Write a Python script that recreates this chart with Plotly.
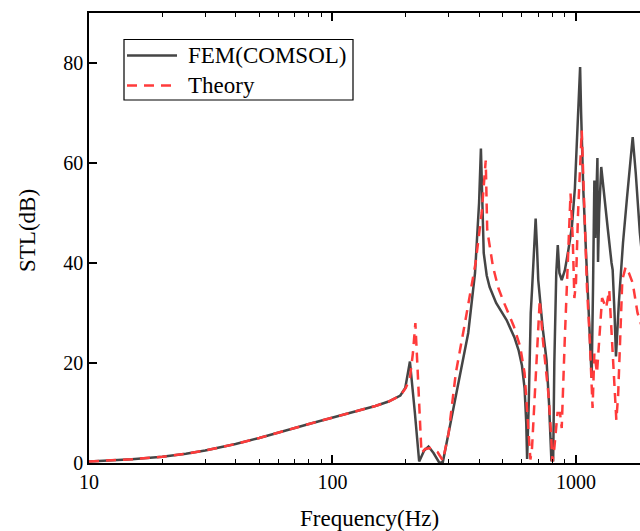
import plotly.graph_objects as go

# FEM (COMSOL) transmission loss
fem_freq = [10, 12, 15, 20, 25, 30, 40, 50, 60, 70, 80, 100, 120, 150, 170, 190,
            199, 208, 218, 227, 238, 248, 260, 275, 284, 300, 330, 361, 385, 400,
            407, 412, 418, 430, 442, 470, 519, 560, 581, 600, 615, 625, 630, 640,
            652, 660, 670, 683, 692, 700, 730, 757, 775, 793, 800, 806, 815, 830,
            842, 855, 874, 900, 930, 962, 990, 1008, 1030, 1040, 1050, 1072, 1100,
            1140, 1160, 1175, 1190, 1200, 1212, 1225, 1232, 1245, 1270, 1300, 1350,
            1400, 1415, 1440, 1460, 1500, 1560, 1620, 1680, 1710, 1760, 1830, 1900]
fem_stl = [0.3, 0.45, 0.75, 1.25, 1.85, 2.5, 3.8, 5.0, 6.0, 7.0, 7.8, 9.1, 10.1, 11.4, 12.3, 13.5,
           15.0, 20.3, 10.0, 0.3, 2.5, 3.3, 2.0, 0.0, 0.2, 6.0, 16.0, 26.0, 38.0, 52.0,
           62.9, 52.0, 42.0, 37.5, 35.2, 32.0, 28.6, 25.0, 22.6, 19.5, 15.0, 8.0, 0.8, 12.0,
           30.0, 34.6, 40.0, 48.9, 43.0, 36.6, 27.0, 20.6, 12.0, 0.3, 5.0, 0.3, 20.0, 38.0,
           43.6, 38.0, 36.6, 38.5, 42.5, 47.2, 55.0, 63.2, 75.0, 79.2, 70.0, 54.6, 42.0,
           26.0, 17.0, 35.0, 56.5, 45.0, 56.0, 61.0, 40.2, 50.0, 59.2, 55.0, 47.0,
           40.0, 38.6, 30.0, 21.3, 32.0, 44.0, 53.0, 61.0, 65.2, 58.0, 46.0, 38.0]

# Analytical (theory) transmission loss
th_freq = [10, 12, 15, 20, 25, 30, 40, 50, 60, 70, 80, 100, 120, 150, 170, 190,
           200, 208, 214, 219, 224, 232, 240, 255, 270, 284, 300, 321, 350, 387,
           410, 426, 432, 456, 480, 504, 556, 590, 615, 630, 650, 660, 672, 690,
           710, 730, 770, 790, 800, 815, 840, 860, 874, 900, 930, 950, 970, 985,
           1000, 1020, 1056, 1080, 1110, 1140, 1170, 1190, 1220, 1280, 1330, 1370,
           1420, 1465, 1490, 1550, 1600, 1650, 1710, 1790, 1900]
th_stl = [0.3, 0.45, 0.75, 1.25, 1.85, 2.5, 3.8, 5.0, 6.0, 7.0, 7.8, 9.1, 10.1, 11.4, 12.3, 13.5,
          15.0, 17.0, 22.0, 28.0, 18.0, 2.0, 2.8, 3.0, 2.2, 0.5, 6.0, 18.0, 28.0, 40.0,
          50.0, 60.5, 46.6, 39.3, 35.0, 32.3, 27.3, 23.3, 18.0, 11.3, 0.7, 3.0, 10.0, 22.0,
          32.6, 25.0, 14.0, 6.0, 0.3, 3.0, 10.0, 10.0, 7.0, 25.0, 45.0, 53.9, 45.0, 33.0,
          36.0, 50.0, 66.5, 50.0, 35.0, 24.6, 11.0, 22.0, 18.0, 33.0, 31.0, 34.6,
          22.0, 8.6, 13.5, 36.6, 39.2, 38.0, 36.0, 30.0, 26.0]

x_ticks = [10, 100, 1000]
x_tick_text = ["10", "100", "1000"]
y_ticks = [0, 20, 40, 60, 80]

SERIF = "Liberation Serif, Times New Roman, serif"
FEM_COLOR = "#454545"
TH_COLOR = "#ff3b3b"
TH_DASH = "10px,7px"

# plot-area geometry in pixels (used to place the legend and titles)
W, H = 640, 531
ML, MT, MB = 89, 13, 68
PW, PH = W - ML, H - MT - MB


def px(xp):
    return (xp - ML) / PW


def py(yp):
    return (H - MB - yp) / PH


fig = go.Figure()
fig.add_trace(go.Scatter(
    x=fem_freq, y=fem_stl, mode="lines", name="FEM(COMSOL)",
    line=dict(color=FEM_COLOR, width=2.5),
))
fig.add_trace(go.Scatter(
    x=th_freq, y=th_stl, mode="lines", name="Theory",
    line=dict(color=TH_COLOR, width=2.5, dash=TH_DASH),
))

fig.update_layout(
    width=W, height=H,
    margin=dict(l=ML, r=0, t=MT, b=MB),
    paper_bgcolor="white", plot_bgcolor="white",
    font=dict(family=SERIF, size=20, color="black"),
    showlegend=False,
)

fig.update_xaxes(
    type="log", range=[1, 3.263],
    showline=True, linecolor="black", linewidth=1.5, mirror="ticks",
    ticks="inside", ticklen=8, tickwidth=1.5, tickcolor="black",
    tickvals=x_ticks, ticktext=x_tick_text,
    minor=dict(ticks="inside", ticklen=4.5, tickwidth=1.2, tickcolor="black",
               dtick="D1", showgrid=False),
    showgrid=False, zeroline=False,
    tickfont=dict(family=SERIF, size=20, color="black"),
)
fig.update_yaxes(
    range=[0, 90],
    showline=True, linecolor="black", linewidth=1.5,
    ticks="inside", ticklen=8, tickwidth=1.5, tickcolor="black",
    tickvals=y_ticks,
    showgrid=False, zeroline=False,
    tickfont=dict(family=SERIF, size=20, color="black"),
)

# legend box with line samples
fig.add_shape(type="rect", xref="paper", yref="paper",
              x0=px(124), x1=px(353), y0=py(100), y1=py(39.5),
              line=dict(color="black", width=1.2), fillcolor="white")
legend_rows = [("FEM(COMSOL)", FEM_COLOR, "solid", 55.5),
               ("Theory", TH_COLOR, TH_DASH, 85.5)]
for label, color, dash, yrow in legend_rows:
    fig.add_shape(type="line", xref="paper", yref="paper",
                  x0=px(127), x1=px(177), y0=py(yrow), y1=py(yrow),
                  line=dict(color=color, width=2.5, dash=dash))
    fig.add_annotation(text=label, xref="paper", yref="paper",
                       x=px(186), y=py(yrow), xanchor="left", yanchor="middle",
                       showarrow=False,
                       font=dict(family=SERIF, size=23, color="black"))

# axis titles
fig.add_annotation(
    text="Frequency(Hz)", xref="paper", yref="paper",
    x=px(369), y=py(518),
    xanchor="center", yanchor="middle", showarrow=False,
    font=dict(family=SERIF, size=23, color="black"),
)
fig.add_annotation(
    text="STL(dB)", xref="paper", yref="paper",
    x=px(27), y=py(231),
    xanchor="center", yanchor="middle", showarrow=False, textangle=-90,
    font=dict(family=SERIF, size=23, color="black"),
)

fig.write_html("out.html")
